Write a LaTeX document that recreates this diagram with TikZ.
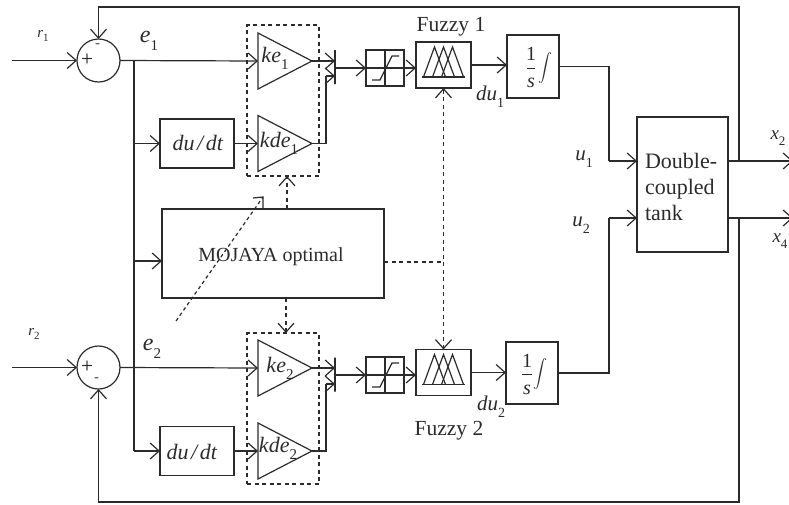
\documentclass[tikz,border=0pt]{standalone}
\usepackage{fontspec}
\setmainfont{Liberation Serif}
\usetikzlibrary{arrows.meta,calc}
\definecolor{ink}{HTML}{2B2B2B}
\newcommand\isub[3]{\textit{#1}\raisebox{-.32em}{\fontsize{#3}{#3}\selectfont #2}}
\newcommand\fs[1]{\fontsize{#1}{#1}\selectfont}
\newcommand\mfset[1]{\begin{scope}[shift={(#1)},line width=1.2pt,draw=ink]
 \draw (-21.5,12) -- (21.5,12);
 \draw (-20,12) -- (-9,-18) -- (2,12);
 \draw (-11,12) -- (0,-18) -- (11,12);
 \draw (-2,12) -- (9,-18) -- (20,12);
\end{scope}}
\newcommand\satset[1]{\begin{scope}[shift={(#1)},line width=1.2pt,draw=ink]
 \draw (0,-18) -- (0,18);
 \draw (-13,12) -- (-5,12) -- (7,-12) -- (14,-12);
\end{scope}}
% gain triangle: name, y of its axis; defines name-l and name-a
\newcommand\gainat[2]{%
 \coordinate (#1-l) at (258,#2);
 \coordinate (#1-a) at (312,#2);
 \draw[plain,line join=miter] (258,#2-28) -- (#1-a) -- (258,#2+28) -- cycle;}
\tikzset{
 barb/.tip={Straight Barb[length=9pt,width=16pt,line width=1.2pt]},
 wire/.style={line width=1.2pt,draw=ink,-barb},
 plain/.style={line width=1.2pt,draw=ink},
 dwire/.style={wire,dash pattern=on 4pt off 3.5pt},
 dline/.style={plain,dash pattern=on 4pt off 3.5pt},
 blk/.style={draw=ink,line width=1.2pt,rectangle,inner sep=0pt,outer sep=0pt},
 dbox/.style={draw=ink,line width=1.2pt,dash pattern=on 4pt off 3.5pt,rectangle,inner sep=0pt,outer sep=0pt,minimum width=72pt,minimum height=151pt},
 sumc/.style={draw=ink,line width=1.2pt,circle,minimum size=43pt,inner sep=0pt,outer sep=0pt},
 barn/.style={draw=ink,line width=1.2pt,rectangle,minimum width=0pt,minimum height=34pt,inner sep=0pt,outer sep=0pt},
 txt/.style={inner sep=0pt,outer sep=0pt,text=ink},
}
\begin{document}
\begin{tikzpicture}[x=1pt,y=-1pt]
\useasboundingbox (0,0) rectangle (789,504);
% blocks
\node[sumc] (s1) at (98.5,60.5) {};
\node[sumc] (s2) at (98.5,367.5) {};
\node[dbox] (dbox1) at (283,100.5) {};
\node[dbox] (dbox2) at (283,408.5) {};
\gainat{ke1}{61}
\gainat{kde1}{143.5}
\gainat{ke2}{368}
\gainat{kde2}{451}
\node[blk,minimum width=74pt,minimum height=49pt] (dd1) at (197,143.5) {};
\node[blk,minimum width=74pt,minimum height=49pt] (dd2) at (197,451) {};
\node[blk,minimum width=222pt,minimum height=89pt] (mo) at (273,253.5) {};
\node[barn] (bar1) at (335,67) {};
\node[barn] (bar2) at (335,374.5) {};
\node[blk,minimum width=38pt,minimum height=36pt] (sat1) at (385,68) {};
\node[blk,minimum width=38pt,minimum height=36pt] (sat2) at (385,375) {};
\node[blk,minimum width=55pt,minimum height=46pt] (fz1) at (443.5,65) {};
\node[blk,minimum width=55pt,minimum height=46pt] (fz2) at (443.5,372.5) {};
\node[blk,minimum width=52pt,minimum height=63pt] (int1) at (533,66.5) {};
\node[blk,minimum width=52pt,minimum height=62pt] (int2) at (532,373) {};
\node[blk,minimum width=91pt,minimum height=135pt] (tank) at (682.5,184.5) {};
\satset{sat1.center}
\satset{sat2.center}
\mfset{fz1.center}
\mfset{fz2.center}
% free ends and corners
\coordinate (in1) at (12,60.5);
\coordinate (in2) at (12,367.5);
\coordinate (jA) at (134,60.5);
\coordinate (jB) at (134,143.5);
\coordinate (jC) at (134,261);
\coordinate (jE) at (134,451);
\coordinate (k1) at (326,143.5);
\coordinate (k1b) at (326,76);
\coordinate (k2) at (326,451);
\coordinate (k2b) at (326,384);
\coordinate (c1) at (609,161);
\coordinate (c2) at (609,218);
\coordinate (o1) at (793,161);
\coordinate (o2) at (793,218);
\coordinate (f1) at (739,161);
\coordinate (f2) at (739,218);
\coordinate (f1t) at (739,7);
\coordinate (f2b) at (739,502);
\coordinate (f1l) at (98.5,7);
\coordinate (f2l) at (98.5,502);
\coordinate (mu) at (287,209);
\coordinate (md) at (286,298);
\coordinate (mr) at (384,262);
\coordinate (dgA) at (176,321);
\coordinate (dgB) at (263,197);
% connectors
\draw[wire] (in1) -- (s1.west);
\draw[wire] (in2) -- (s2.west);
\draw[wire] (s1.east) -- (ke1-l);
\draw[wire] (s2.east) -- (ke2-l);
\draw[plain] (jA) -- (jE);
\draw[wire] (jB) -- (dd1.west);
\draw[wire] (jE) -- (dd2.west);
\draw[wire] (jC) -- (mo.west |- jC);
\draw[wire] (dd1.east) -- (kde1-l);
\draw[wire] (dd2.east) -- (kde2-l);
\draw[wire] (ke1-a) -- (bar1 |- ke1-a);
\draw[wire] (ke2-a) -- (bar2 |- ke2-a);
\draw[plain] (kde1-a) -- (k1) -- (k1b);
\draw[wire] (k1b) -- (bar1 |- k1b);
\draw[plain] (kde2-a) -- (k2) -- (k2b);
\draw[wire] (k2b) -- (bar2 |- k2b);
\draw[wire] (bar1 |- sat1) -- (sat1.west);
\draw[wire] (sat1.west) -- (fz1.west |- sat1);
\draw[wire] (bar2 |- sat2) -- (sat2.west);
\draw[wire] (sat2.west) -- (fz2.west |- sat2);
\draw[wire] (fz1.east) -- (int1.west |- fz1);
\draw[wire] (fz2.east) -- (int2.west |- fz2);
\draw[plain] (int1.east) -| (c1);
\draw[wire] (c1) -- (tank.west |- c1);
\draw[plain] (int2.east) -| (c2);
\draw[wire] (c2) -- (tank.west |- c2);
\draw[wire] (tank.east |- o1) -- (o1);
\draw[wire] (tank.east |- o2) -- (o2);
\draw[wire] (f1) -- (f1t) -- (f1l) -- (s1.north);
\draw[wire] (f2) -- (f2b) -- (f2l) -- (s2.south);
\draw[dwire] (mu) -- (dbox1.south -| mu);
\draw[dwire] (md) -- (dbox2.north -| md);
\draw[dline] (mr) -- (mr -| fz1.south);
\draw[dwire,barb-barb] (fz1.south) -- (fz2.north);
\draw[plain,dash pattern=on 3.5pt off 3pt] (dgA) -- (dgB);
\draw[plain] (253,198) -- (dgB) -- (263,208);
% labels
\node[txt,font=\fs{20}] (tm) at (271,257) {MOJAYA optimal};
\node[txt,font=\fs{21.5}] (fzt1) at (451,27) {Fuzzy 1};
\node[txt,font=\fs{21.5}] (fzt2) at (449,431) {Fuzzy 2};
\node[txt,font=\fontsize{22}{26}\selectfont,align=left,text width=78pt] (tkt) at (684,187) {Double-\\coupled\\tank};
\node[txt,font=\fs{15}] (lr1) at (43,36) {\isub{r}{1}{11}};
\node[txt,font=\fs{15}] (lr2) at (34,334) {\isub{r}{2}{11}};
\node[txt,font=\fs{24}] (le1) at (149,41) {\isub{e}{1}{15}};
\node[txt,font=\fs{24}] (le2) at (152,349) {\isub{e}{2}{15}};
\node[txt,font=\fs{22}] (lke1) at (275,58) {\isub{ke}{1}{15}};
\node[txt,font=\fs{22}] (lkde1) at (279,143) {\isub{kde}{1}{15}};
\node[txt,font=\fs{22}] (lke2) at (280,368) {\isub{ke}{2}{15}};
\node[txt,font=\fs{22}] (lkde2) at (278,448) {\isub{kde}{2}{15}};
\node[txt,font=\fs{22}] (ldd1) at (198,143) {\spaceskip=.12em\relax\textit{du / dt}};
\node[txt,font=\fs{22}] (ldd2) at (192,452) {\spaceskip=.12em\relax\textit{du / dt}};
\node[txt,font=\fs{21}] (ldu1) at (490,97) {\isub{du}{1}{14}};
\node[txt,font=\fs{21}] (ldu2) at (491,407) {\isub{du}{2}{14}};
\node[txt,font=\fs{21}] (lu1) at (584,159) {\isub{u}{1}{14}};
\node[txt,font=\fs{21}] (lu2) at (581,225) {\isub{u}{2}{14}};
\node[txt,font=\fs{19}] (lx2) at (778,138) {\isub{x}{2}{13}};
\node[txt,font=\fs{19}] (lx4) at (780,241) {\isub{x}{4}{13}};
\node[txt,font=\bfseries\sffamily\fs{14}] (p1) at (87,59) {+};
\node[txt,font=\bfseries\sffamily\fs{14}] (m1) at (98,46) {-};
\node[txt,font=\bfseries\sffamily\fs{14}] (p2) at (87,366) {+};
\node[txt,font=\bfseries\sffamily\fs{14}] (m2) at (97,380) {-};
% integrators
\node[txt,font=\fs{20}] (on1) at (531,54) {1};
\node[txt,font=\itshape\fs{20}] (ss1) at (531,83) {s};
\draw[ink,line width=.5pt] (527,68) -- (535,68);
\node[txt] (ig1) at (545,68) {\scalebox{1.4}{$\displaystyle\int$}};
\node[txt,font=\fs{20}] (on2) at (527,361) {1};
\node[txt,font=\itshape\fs{20}] (ss2) at (527,390) {s};
\draw[ink,line width=.5pt] (522,374) -- (532,374);
\node[txt] (ig2) at (540,374) {\scalebox{1.4}{$\displaystyle\int$}};
\end{tikzpicture}
\end{document}
